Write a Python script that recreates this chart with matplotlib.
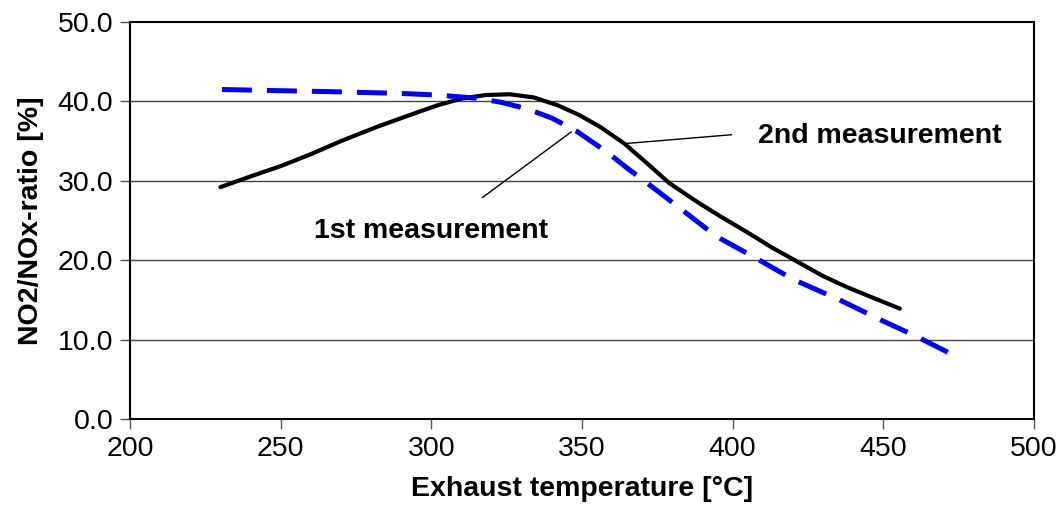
import matplotlib
matplotlib.use("Agg")
import matplotlib.pyplot as plt

plt.rcParams['font.family'] = ['Liberation Sans', 'DejaVu Sans']

# 1st measurement (blue dashed)
temp_1st = [230.5, 250, 270, 290, 302, 315, 323, 331.5, 340, 348, 358, 365, 371, 382,
            394.6, 408, 420, 435.5, 449, 461, 473]
ratio_1st = [41.5, 41.35, 41.2, 41.0, 40.8, 40.4, 39.9, 39.1, 37.9, 36.3, 33.7, 31.6, 29.9, 26.7,
             23.0, 20.2, 17.6, 15.0, 12.5, 10.4, 8.1]

# 2nd measurement (black solid)
temp_2nd = [230, 240, 250, 260, 270, 282, 293, 302, 310, 318, 326, 334, 342, 349, 356,
            364, 371, 379, 388, 396, 404.5, 413, 422, 430, 438, 447, 455.5]
ratio_2nd = [29.2, 30.55, 31.85, 33.35, 35.0, 36.8, 38.3, 39.5, 40.35, 40.8, 40.9, 40.5, 39.5, 38.3, 36.8,
             34.7, 32.4, 29.7, 27.4, 25.5, 23.6, 21.6, 19.7, 18.0, 16.6, 15.2, 13.9]

y_ticks = [0, 10, 20, 30, 40, 50]
x_ticks = [200, 250, 300, 350, 400, 450, 500]

fig = plt.figure(figsize=(10.63, 5.25), dpi=100)
ax = fig.add_axes([0.1223, 0.2019, 0.8504, 0.7562])

ax.plot(temp_2nd, ratio_2nd, color='black', lw=3.0, solid_capstyle='round',
        solid_joinstyle='round', zorder=3)
line1, = ax.plot(temp_1st, ratio_1st, color='#0000FF', lw=3.6, zorder=4)
line1.set_dashes((6, 3))

ax.set_xlim(200, 500)
ax.set_ylim(0, 50)
ax.set_xticks(x_ticks)
ax.set_yticks(y_ticks)
ax.set_yticklabels([f"{v:.1f}" for v in y_ticks])
ax.tick_params(axis='both', direction='out', length=7, width=1, color='#555555',
               labelsize=20.5, pad=5)

for v in y_ticks[1:-1]:
    ax.axhline(v, color='#444444', lw=1, zorder=1)

for s in ax.spines.values():
    s.set_color('black')
    s.set_linewidth(1.5)

ax.set_xlabel("Exhaust temperature [°C]", fontsize=20.5, fontweight='bold', labelpad=10)
ax.set_ylabel("NO2/NOx-ratio [%]", fontsize=20.5, fontweight='bold', labelpad=10)

# annotations
ax.plot([317.0, 346.4], [27.9, 36.15], color='black', lw=1, zorder=2)
ax.plot([364.7, 399.6], [34.7, 35.8], color='black', lw=1, zorder=2)
ax.text(261.1, 22.85, "1st measurement", fontsize=20.5, fontweight='bold', va='baseline', ha='left')
ax.text(408.4, 34.7, "2nd measurement", fontsize=20.5, fontweight='bold', va='baseline', ha='left')

fig.savefig("out.png", dpi=100)
